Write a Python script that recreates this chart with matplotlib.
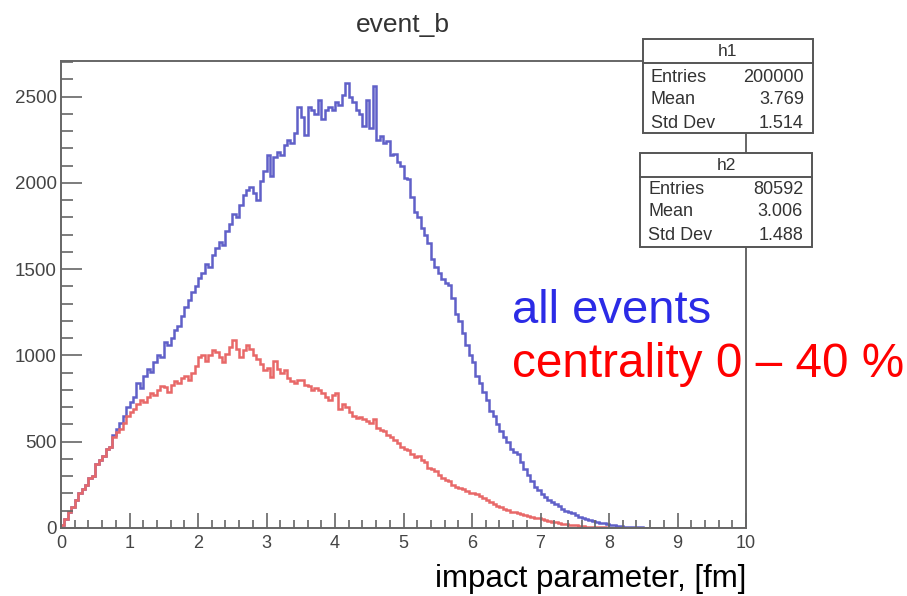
import numpy as np
import matplotlib.pyplot as plt
from matplotlib.patches import Rectangle
from matplotlib.lines import Line2D
from matplotlib.ticker import MultipleLocator

# histogram binning (ROOT TH1: 200 bins on [0, 10])
n_bins = 200
b_lo, b_hi = 0.0, 10.0

# h1 : all events, bin contents
h1_counts = [
    15, 50, 95, 120, 165, 200, 225, 250, 290, 300,
    370, 395, 420, 455, 470, 540, 575, 610, 650, 700,
    730, 760, 840, 810, 880, 920, 905, 960, 1000, 990,
    1080, 1060, 1100, 1150, 1170, 1230, 1280, 1320, 1370, 1400,
    1450, 1480, 1530, 1510, 1580, 1620, 1660, 1640, 1720, 1760,
    1820, 1800, 1870, 1930, 1960, 1975, 1940, 1900, 2010, 2070,
    2160, 2040, 2150, 2180, 2160, 2220, 2250, 2230, 2290, 2440,
    2380, 2280, 2440, 2420, 2400, 2480, 2370, 2420, 2440, 2420,
    2470, 2450, 2510, 2580, 2500, 2470, 2420, 2400, 2330, 2480,
    2320, 2560, 2250, 2270, 2230, 2240, 2160, 2170, 2120, 2100,
    2030, 2020, 1920, 1830, 1800, 1740, 1700, 1650, 1560, 1510,
    1480, 1440, 1420, 1410, 1330, 1240, 1200, 1130, 1060, 1000,
    960, 880, 840, 790, 740, 680, 650, 600, 560, 530,
    500, 460, 440, 430, 380, 340, 310, 270, 240, 220,
    195, 180, 165, 150, 140, 130, 110, 100, 90, 85,
    75, 65, 60, 52, 45, 40, 35, 30, 27, 24,
    18, 15, 12, 10, 8, 6, 5, 4, 3, 3,
    2, 2, 1, 1, 1, 0, 1, 0, 0, 0,
    0, 0, 0, 0, 0, 0, 0, 0, 0, 0,
    0, 0, 0, 0, 0, 0, 0, 0, 0, 0,
]

# h2 : centrality 0-40 %
h2_counts = [
    15, 50, 95, 120, 165, 200, 225, 250, 290, 300,
    370, 395, 420, 455, 470, 530, 555, 575, 610, 650,
    670, 690, 720, 740, 730, 760, 780, 770, 800, 820,
    815, 790, 830, 850, 840, 870, 880, 860, 900, 940,
    990, 1000, 970, 1000, 1030, 1020, 990, 960, 1010, 1050,
    1090, 1040, 990, 1030, 1060, 1040, 1000, 980, 950, 915,
    930, 875, 970, 920, 900, 915, 870, 850, 840, 860,
    855, 830, 820, 800, 810, 800, 780, 760, 740, 770,
    780, 690, 720, 700, 670, 650, 640, 645, 630, 620,
    610, 630, 580, 570, 560, 540, 530, 510, 490, 470,
    460, 450, 430, 410, 420, 395, 380, 350, 340, 330,
    310, 290, 280, 270, 250, 240, 230, 225, 215, 205,
    200, 195, 185, 175, 165, 150, 140, 130, 120, 110,
    104, 95, 90, 85, 80, 75, 70, 65, 60, 57,
    50, 45, 40, 36, 33, 30, 26, 22, 20, 17,
    15, 12, 10, 8, 7, 6, 5, 4, 3, 2,
    2, 1, 1, 1, 0, 1, 0, 0, 0, 0,
    0, 0, 0, 0, 0, 0, 0, 0, 0, 0,
    0, 0, 0, 0, 0, 0, 0, 0, 0, 0,
    0, 0, 0, 0, 0, 0, 0, 0, 0, 0,
]

stats_names = ["Entries", "Mean", "Std Dev"]
h1_stats = ["200000", "3.769", "1.514"]
h2_stats = ["80592", "3.006", "1.488"]

W, H = 907, 596
plt.rcParams['font.family'] = ['Liberation Sans', 'DejaVu Sans']

fig = plt.figure(figsize=(W / 100, H / 100), dpi=100)


def px(x, y):
    return x / W, 1 - y / H


ax = fig.add_axes([61 / W, 1 - 528 / H, 685 / W, 467 / H])
edges = np.linspace(b_lo, b_hi, n_bins + 1)
ax.stairs(h1_counts, edges, color='#6060c8', lw=1.8)
ax.stairs(h2_counts, edges, color='#e86868', lw=1.8)

ax.set_xlim(0, 10)
ax.set_ylim(0, 2706)
ax.xaxis.set_major_locator(MultipleLocator(1))
ax.xaxis.set_minor_locator(MultipleLocator(0.2))
ax.yaxis.set_major_locator(MultipleLocator(500))
ax.yaxis.set_minor_locator(MultipleLocator(100))
ax.tick_params(axis='y', which='major', direction='in', length=15, width=1.2,
               color='#666666', labelsize=13.5, labelcolor='#444444', pad=3)
ax.tick_params(axis='y', which='minor', direction='in', length=8.5, width=1.2,
               color='#666666')
ax.tick_params(axis='x', which='major', direction='in', length=11, width=1.2,
               color='#666666', labelsize=13, labelcolor='#444444', pad=5)
ax.tick_params(axis='x', which='minor', direction='in', length=5.5, width=1.2,
               color='#666666')
for s in ax.spines.values():
    s.set_color('#666666')
    s.set_linewidth(1.4)

fig.text(*px(403, 32), "event_b", fontsize=19, color='#333333',
         ha='center', va='baseline')

fig.text(*px(512, 323), "all events", fontsize=34, color='#2b2be6',
         ha='left', va='baseline')
fig.text(*px(512, 377), "centrality 0 \u2013 40 %", fontsize=34.3,
         color='#ff0000', ha='left', va='baseline')
fig.text(*px(435, 587), "impact parameter, [fm]", fontsize=22.5,
         color='black', ha='left', va='baseline')


def stat_box(left, top, right, hline, bottom, title, values, rows):
    x0, y0 = px(left, bottom)
    x1, y1 = px(right, top)
    fig.add_artist(Rectangle((x0, y0), x1 - x0, y1 - y0, transform=fig.transFigure,
                             facecolor='white', edgecolor='#555555', lw=1.4,
                             zorder=5))
    yh = px(0, hline)[1]
    fig.add_artist(Line2D([x0, x1], [yh, yh], transform=fig.transFigure,
                          color='#555555', lw=1.4, zorder=6))
    fig.text((x0 + x1) / 2, px(0, (top + hline) / 2)[1], title, fontsize=12.5,
             color='#333333', ha='center', va='center', zorder=7)
    for name, val, yr in zip(stats_names, values, rows):
        fig.text(px(left + 8, 0)[0], px(0, yr)[1], name, fontsize=13,
                 color='#333333', ha='left', va='center', zorder=7)
        fig.text(px(right - 9, 0)[0], px(0, yr)[1], val, fontsize=13,
                 color='#333333', ha='right', va='center', zorder=7)


stat_box(643, 39, 813, 63, 133, "h1", h1_stats, [77, 100, 123])
stat_box(640, 153, 812, 177, 247, "h2", h2_stats, [189, 212, 235])

fig.savefig("out.png", dpi=100)
